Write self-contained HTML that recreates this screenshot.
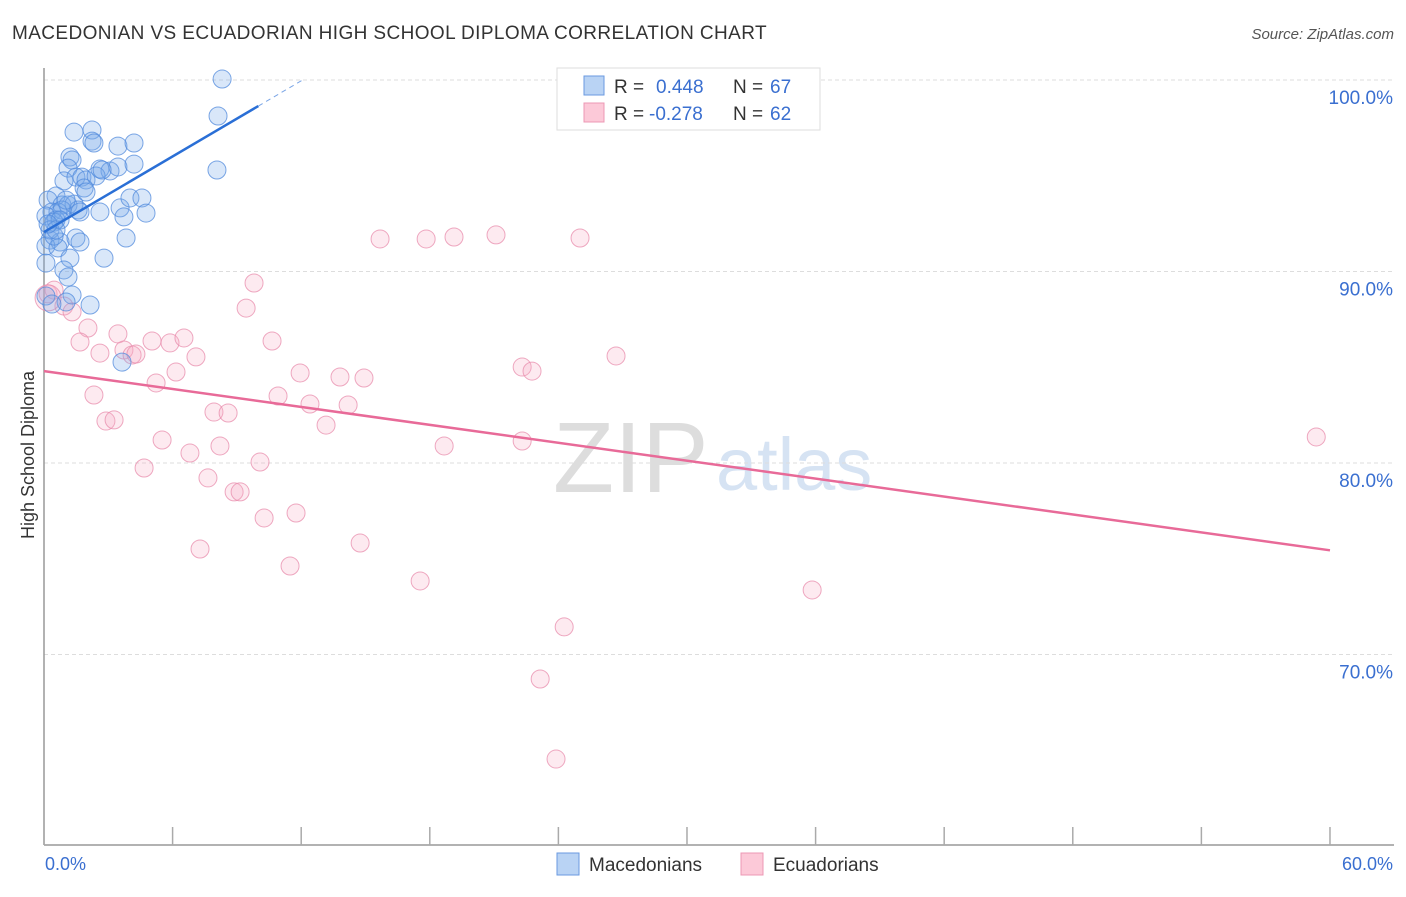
<!DOCTYPE html>
<html><head><meta charset="utf-8"><style>
body{margin:0;background:#fff;font-family:"Liberation Sans",sans-serif;}
svg text{font-family:"Liberation Sans",sans-serif;}
</style></head><body>
<svg id="c" width="1406" height="892" xmlns="http://www.w3.org/2000/svg">
<text x="12" y="39" font-size="19" letter-spacing="0.4" fill="#333">MACEDONIAN VS ECUADORIAN HIGH SCHOOL DIPLOMA CORRELATION CHART</text>
<text x="1394" y="39" font-size="15" fill="#555" font-style="italic" text-anchor="end">Source: ZipAtlas.com</text>
<text x="553" y="492" font-size="100" fill="#ddd" font-family="Liberation Serif">ZIP</text>
<text x="716" y="490" font-size="74" fill="#d6e3f3">atlas</text>
<g id="grid"></g>
<line x1="44" y1="68" x2="44" y2="845" stroke="#999" stroke-width="1.5"/>
<line x1="44" y1="845" x2="1394" y2="845" stroke="#999" stroke-width="1.5"/>
<g id="ticks"></g>
<text x="34" y="455" font-size="18" fill="#333" text-anchor="middle" transform="rotate(-90 34 455)">High School Diploma</text>
<text x="45" y="870" font-size="18" fill="#3a6fd0">0.0%</text>
<text x="1393" y="870" font-size="18" fill="#3a6fd0" text-anchor="end">60.0%</text>
<g id="pts"></g>
<g id="lines"></g>
<g>
<rect x="557" y="68" width="263" height="62" fill="#fff" stroke="#ddd"/>
<rect x="584" y="76" width="20" height="19" fill="#b9d3f4" stroke="#6a9ae0"/>
<rect x="584" y="103" width="20" height="19" fill="#fcc9d8" stroke="#ec98b4"/>
<text x="614" y="93" font-size="19" fill="#333">R = </text><text x="656" y="93" font-size="19" fill="#3a6fd0">0.448</text>
<text x="733" y="93" font-size="19" fill="#333">N = </text><text x="770" y="93" font-size="19" fill="#3a6fd0">67</text>
<text x="614" y="120" font-size="19" fill="#333">R = </text><text x="649" y="120" font-size="19" fill="#3a6fd0">-0.278</text>
<text x="733" y="120" font-size="19" fill="#333">N = </text><text x="770" y="120" font-size="19" fill="#3a6fd0">62</text>
</g>
<g><rect x="557" y="853" width="22" height="22" fill="#b9d3f4" stroke="#6a9ae0"/><text x="589" y="871" font-size="19" fill="#333">Macedonians</text></g>
<g><rect x="741" y="853" width="22" height="22" fill="#fcc9d8" stroke="#ec98b4"/><text x="773" y="871" font-size="19" fill="#333">Ecuadorians</text></g>
</svg>
<script>
const yTicks=[100,90,80,70];
const yTickLabels=["100.0%","90.0%","80.0%","70.0%"];
const xTicks=[0,6,12,18,24,30,36,42,48,54,60];
const blueX=[8.31,8.12,8.07,1.40,2.24,2.24,2.33,3.45,4.20,1.21,1.31,2.61,3.08,3.45,4.20,1.12,0.93,1.49,1.77,1.96,1.87,0.56,0.19,0.84,1.12,1.40,1.59,1.68,0.37,0.65,0.84,0.09,0.56,0.47,2.61,3.55,4.01,4.57,4.76,3.73,3.83,0.28,0.75,1.49,1.68,0.09,0.65,1.21,2.80,0.09,0.93,1.12,0.09,1.31,2.15,1.03,0.37,3.64,0.75,1.03,1.96,0.28,0.47,2.43,2.71,0.56,0.19];
const blueY=[100.05,98.12,95.30,97.28,97.39,96.81,96.71,96.55,96.71,95.98,95.82,95.35,95.25,95.46,95.61,95.40,94.73,94.93,94.93,94.78,94.36,93.94,93.73,93.47,93.47,93.52,93.21,93.11,93.11,93.11,93.21,92.90,92.69,92.58,93.11,93.32,93.84,93.84,93.05,92.85,91.75,91.64,91.54,91.75,91.54,91.33,91.23,90.70,90.70,90.44,90.08,89.71,88.72,88.77,88.25,88.41,88.30,85.27,92.69,93.73,94.15,92.17,91.85,94.99,95.30,92.17,92.48];
const pinkX=[0.19,0.47,0.93,1.31,2.05,1.68,2.61,3.45,3.73,4.11,4.29,5.04,5.88,6.53,7.09,6.16,5.23,2.33,2.89,3.27,5.51,4.67,6.81,7.65,7.93,8.21,8.59,8.87,9.15,10.08,10.27,11.76,7.28,9.43,9.80,10.64,10.92,11.95,12.41,13.16,13.81,14.19,14.93,14.75,11.48,15.68,17.83,19.13,21.09,25.01,22.31,22.77,26.69,22.31,18.67,17.55,24.27,23.15,23.89,35.84,59.36,0.19];
const pinkY=[88.83,89.03,88.20,87.89,87.05,86.32,85.74,86.74,85.90,85.64,85.69,86.37,86.27,86.53,85.54,84.75,84.18,83.55,82.19,82.25,81.20,79.74,80.52,79.22,82.66,80.89,82.61,78.49,78.49,80.05,77.13,77.39,75.51,88.09,89.40,86.37,83.50,84.70,83.08,81.98,84.49,83.03,84.44,75.82,74.62,91.70,91.70,91.80,91.91,91.75,85.01,84.80,85.59,81.15,80.89,73.84,71.44,68.72,64.54,73.37,81.36,88.62];
const blueTrend=[92.06,0.658];
const pinkTrend=[84.8,-0.156];
const NS="http://www.w3.org/2000/svg";
const sx=v=>44+v*21.433;
const sy=v=>80+(100-v)*19.15;
function mk(t,a,p){const e=document.createElementNS(NS,t);for(const k in a)e.setAttribute(k,a[k]);p.appendChild(e);return e;}
const grid=document.getElementById('grid');
yTicks.forEach((t,i)=>{
 const l=mk('line',{x1:44,x2:1394,y1:sy(t),y2:sy(t),stroke:'#ddd','stroke-dasharray':'4 3'},grid);
 
 
 const tx=mk('text',{x:1393,y:sy(t)+24,'font-size':19,fill:'#3a6fd0','text-anchor':'end'},grid);
 tx.textContent=yTickLabels[i];
 
 
});
const tk=document.getElementById('ticks');
xTicks.forEach(t=>{
 const l=mk('line',{x1:sx(t),x2:sx(t),y1:827,y2:845,stroke:'#aaa','stroke-width':1.5},tk);
 
 
});
const pts=document.getElementById('pts');
pinkX.forEach((x,i)=>{
 const c=mk('circle',{cx:sx(x),cy:sy(pinkY[i]),r:i==pinkX.length-1?13:9,fill:'rgba(246,170,196,0.25)',stroke:'rgba(232,140,172,0.75)','stroke-width':1},pts);
 
 
});
blueX.forEach((x,i)=>{
 const c=mk('circle',{cx:sx(x),cy:sy(blueY[i]),r:9,fill:'rgba(120,168,232,0.28)',stroke:'rgba(80,138,220,0.75)','stroke-width':1},pts);
 
 
});
const ln=document.getElementById('lines');
let b1=mk('line',{x1:sx(0),y1:sy(blueTrend[0]),x2:sx(10),y2:sy(blueTrend[0]+10*blueTrend[1]),stroke:'#2a6fd6','stroke-width':2.5},ln);


let b2=mk('line',{x1:sx(10),y1:sy(blueTrend[0]+10*blueTrend[1]),x2:sx(12.1),y2:sy(blueTrend[0]+12.1*blueTrend[1]),stroke:'#7aa5e6','stroke-width':1,'stroke-dasharray':'5 4'},ln);


let p1=mk('line',{x1:sx(0),y1:sy(pinkTrend[0]),x2:sx(60),y2:sy(pinkTrend[0]+60*pinkTrend[1]),stroke:'#e86a98','stroke-width':2.5},ln);


</script>
</body></html>
